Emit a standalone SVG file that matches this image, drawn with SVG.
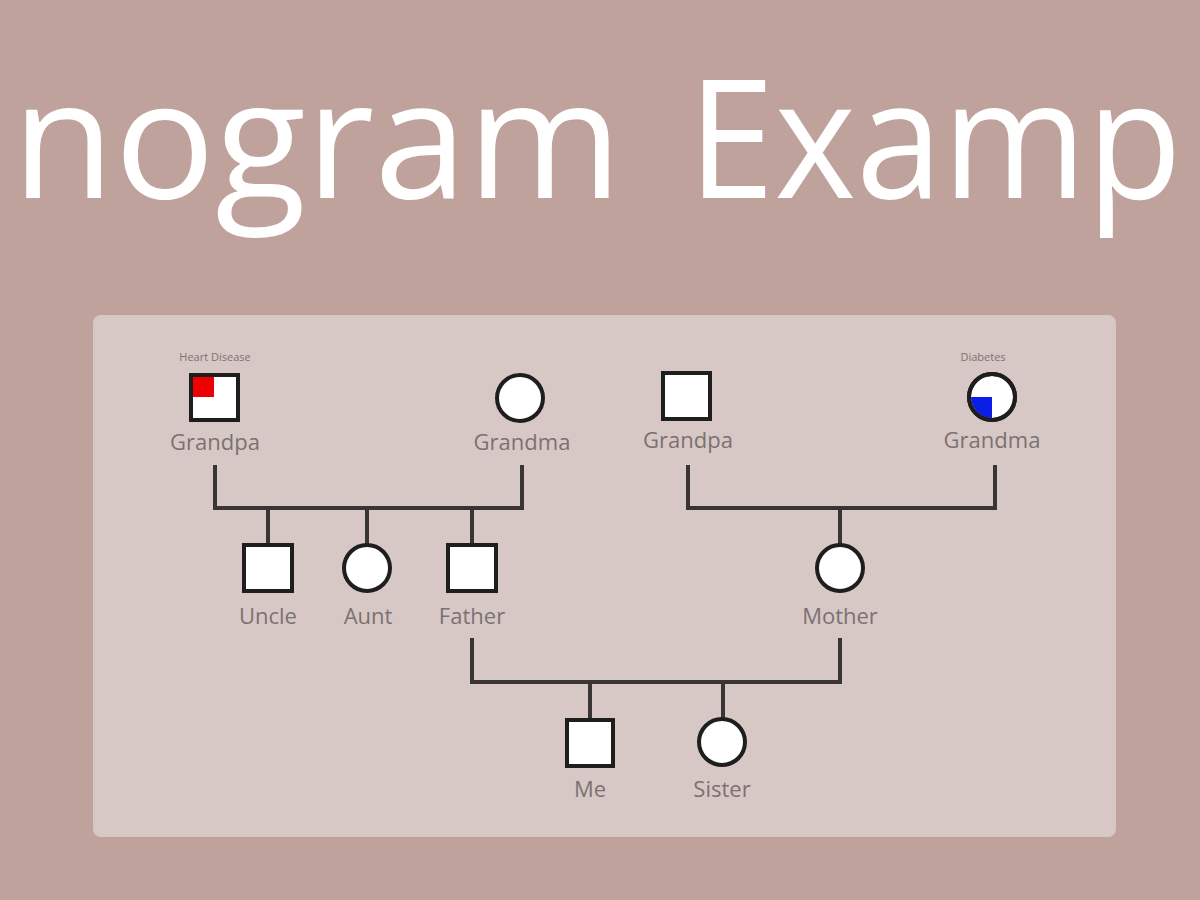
<svg xmlns="http://www.w3.org/2000/svg" width="1200" height="900" viewBox="0 0 1200 900">
<style>
.title{font-family:"Open Sans","Noto Sans",sans-serif;font-size:164px;fill:#ffffff}
.lbl{font-family:"Open Sans","Liberation Sans",sans-serif;font-size:22px;fill:#7a7272;text-anchor:middle}
.small{font-family:"Open Sans","Liberation Sans",sans-serif;font-size:11px;fill:#7a7272;text-anchor:middle}
.sym{fill:#ffffff;stroke:#1e1e1e;stroke-width:4}
.ln{stroke:#3a3535;stroke-width:4;fill:none;stroke-linecap:square}
</style>
<rect width="1200" height="900" fill="#bfa29c"/>
<text class="title" y="198"><tspan x="12" textLength="610" lengthAdjust="spacingAndGlyphs">nogram</tspan><tspan x="688" textLength="494" lengthAdjust="spacingAndGlyphs">Examp</tspan></text>
<rect x="93" y="315" width="1023" height="522" rx="8" fill="#d8c8c5"/>
<g id="connectors">
<path class="ln" d="M215 467V508H522V467"/>
<path class="ln" d="M268 508V545M367 508V545M472 508V545"/>
<path class="ln" d="M688 467V508H995V467"/>
<path class="ln" d="M840 508V545"/>
<path class="ln" d="M472 640V682H840V640"/>
<path class="ln" d="M590 682V720M723 682V720"/>
</g>
<g id="grandpa1">
<text class="small" x="215" y="361">Heart Disease</text>
<rect class="sym" x="191" y="375" width="47" height="45"/>
<rect x="193" y="377" width="21" height="20" fill="#ee0000"/>
<text class="lbl" x="215" y="450">Grandpa</text>
</g>
<g id="grandma1">
<circle class="sym" cx="520" cy="398" r="23"/>
<text class="lbl" x="522" y="450">Grandma</text>
</g>
<g id="grandpa2">
<rect class="sym" x="663" y="373" width="47" height="46"/>
<text class="lbl" x="688" y="448">Grandpa</text>
</g>
<g id="grandma2">
<text class="small" x="983" y="361">Diabetes</text>
<circle class="sym" cx="992" cy="397" r="23"/>
<path d="M992 397V418A21 21 0 0 1 971 397Z" fill="#0a1ee8"/>
<circle cx="992" cy="397" r="23" fill="none" stroke="#1e1e1e" stroke-width="4"/>
<text class="lbl" x="992" y="448">Grandma</text>
</g>
<g id="uncle">
<rect class="sym" x="244" y="545" width="48" height="46"/>
<text class="lbl" x="268" y="624">Uncle</text>
</g>
<g id="aunt">
<circle class="sym" cx="367" cy="568" r="23"/>
<text class="lbl" x="368" y="624">Aunt</text>
</g>
<g id="father">
<rect class="sym" x="448" y="545" width="48" height="46"/>
<text class="lbl" x="472" y="624">Father</text>
</g>
<g id="mother">
<circle class="sym" cx="840" cy="568" r="23"/>
<text class="lbl" x="840" y="624">Mother</text>
</g>
<g id="me">
<rect class="sym" x="567" y="720" width="46" height="46"/>
<text class="lbl" x="590" y="797">Me</text>
</g>
<g id="sister">
<circle class="sym" cx="722" cy="742" r="23"/>
<text class="lbl" x="722" y="797">Sister</text>
</g>
</svg>
